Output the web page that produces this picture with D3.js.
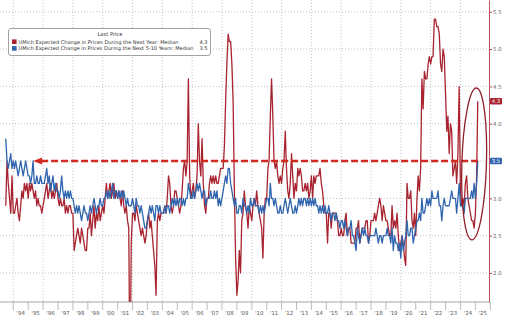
<!DOCTYPE html>
<html><head><meta charset="utf-8">
<script src="https://cdn.jsdelivr.net/npm/d3@7"></script>
<style>body{margin:0;background:#fff}svg{display:block;font-family:"DejaVu Sans",sans-serif}</style>
</head><body><svg id="c" width="513" height="324"></svg>
<script>
// Monthly series, first value = June 1993, last value = Feb 2025
const startYear = 1993, startMonth = 6;
const oneYear = [
 2.9,3.5,3.2,3.0,2.8,3.3,2.8,
 2.8,2.9,3.0,2.8,2.7,2.9,3.1,3.0,3.2,3.1,3.2,3.0,
 3.2,3.1,3.2,3.1,3.0,3.1,2.9,3.0,2.9,2.9,2.8,2.9,
 3.0,3.1,3.2,3.0,3.1,3.2,3.0,3.1,3.0,3.1,3.2,3.0,
 2.9,3.0,2.9,2.9,3.0,2.8,2.9,2.8,2.9,2.9,2.8,2.8,
 2.3,2.4,2.5,2.6,2.5,2.4,2.6,2.5,2.4,2.3,2.3,2.6,
 2.6,2.8,2.5,2.7,2.9,2.6,2.8,2.7,2.9,2.7,2.8,2.9,
 2.8,3.0,3.2,3.0,3.1,3.2,3.0,3.1,3.2,3.0,3.1,3.0,
 3.1,3.0,2.9,3.1,2.9,2.8,2.9,2.7,2.6,0.4,2.4,2.8,
 2.8,2.7,2.9,2.8,2.7,2.6,2.5,2.6,2.5,2.4,2.5,2.7,
 2.8,2.6,2.7,2.5,2.3,2.1,1.7,2.7,2.8,2.7,2.8,2.8,
 2.8,2.9,2.8,3.0,3.3,3.2,2.9,2.8,2.9,3.1,3.1,3.0,
 2.9,2.8,2.9,3.1,3.4,3.5,3.3,3.5,4.6,3.3,3.0,3.1,
 3.2,3.0,3.1,3.3,4.0,3.5,3.3,3.8,3.2,2.9,2.8,3.0,
 3.0,3.2,3.3,3.2,3.3,3.2,3.3,3.2,3.2,3.3,3.4,3.4,
 3.4,3.7,4.3,4.8,5.2,5.1,5.1,4.8,4.3,3.1,2.2,1.7,
 1.9,2.3,2.0,2.7,2.8,3.1,2.9,2.8,2.6,2.9,2.8,2.7,
 2.9,3.0,2.9,3.1,2.9,2.8,2.7,2.6,2.2,2.8,3.0,3.0,
 3.4,3.5,4.1,4.6,4.1,3.5,3.4,3.5,3.3,3.2,3.3,3.2,
 3.4,3.5,3.9,3.4,3.1,3.0,3.2,3.6,3.3,3.0,3.2,3.1,
 3.4,3.3,3.4,3.3,3.1,3.1,3.2,3.1,3.2,3.0,3.1,3.3,
 3.0,3.3,3.2,3.3,3.3,3.3,3.4,3.2,3.1,2.9,2.8,2.8,
 2.4,2.8,2.8,2.6,2.8,2.8,2.8,2.8,2.7,2.5,2.5,2.6,
 2.5,2.5,2.7,2.8,2.5,2.6,2.6,2.4,2.4,2.4,2.4,2.6,
 2.6,2.7,2.4,2.5,2.6,2.6,2.6,2.7,2.7,2.4,2.5,2.7,
 2.7,2.7,2.8,2.7,2.8,2.9,3.0,2.9,2.7,2.9,2.8,2.7,
 2.7,2.6,2.5,2.5,2.9,2.6,2.7,2.6,2.8,2.5,2.3,2.4,
 2.5,2.4,2.2,2.1,3.2,3.0,3.0,3.1,2.7,2.6,2.8,2.5,
 3.0,3.3,3.1,3.4,4.6,4.2,4.7,4.6,4.6,4.8,4.9,4.8,
 4.9,4.9,5.4,5.4,5.3,5.3,5.2,4.8,4.7,5.0,4.9,4.4,
 3.9,4.1,3.6,4.0,3.9,3.3,3.4,3.5,3.2,3.6,4.5,3.1,
 2.9,3.0,2.9,3.2,3.3,3.0,2.9,2.8,2.7,2.7,2.6,2.8,
 3.3,4.3
];
const fiveTenYear = [
 3.8,3.5,3.4,3.5,3.6,3.4,3.5,
 3.4,3.5,3.4,3.3,3.4,3.5,3.4,3.3,3.4,3.5,3.4,3.3,
 3.3,3.2,3.3,3.5,3.2,3.2,3.3,3.2,3.2,3.3,3.2,3.2,
 3.2,3.3,3.4,3.2,3.3,3.1,3.2,3.3,3.1,3.2,3.1,3.1,
 3.0,3.1,3.3,3.1,3.0,3.1,3.0,3.1,3.0,3.1,3.0,3.0,
 2.9,2.8,2.9,2.8,2.9,2.8,2.7,2.8,2.9,2.8,2.8,2.7,
 2.8,2.9,2.8,2.9,3.0,2.9,2.8,2.9,2.9,3.0,2.9,2.9,
 3.0,3.0,3.1,3.0,3.1,3.0,3.1,3.2,3.0,3.1,3.1,3.0,
 3.1,3.0,3.1,3.0,3.1,3.0,2.9,3.0,2.9,2.9,2.9,3.0,
 2.9,2.8,3.0,2.9,2.9,2.8,2.9,2.8,2.7,2.6,2.6,2.7,
 2.8,2.9,2.8,2.9,2.8,2.7,2.9,2.9,2.8,2.9,2.8,2.8,
 2.8,2.9,2.8,2.9,2.9,2.8,2.9,3.0,2.9,3.0,2.9,3.0,
 2.9,3.0,3.0,2.9,3.0,2.9,3.0,3.0,3.2,3.1,3.0,3.0,
 3.1,3.0,3.1,3.2,3.1,3.2,3.1,3.0,3.1,3.1,2.9,3.0,
 3.0,3.0,3.1,3.0,3.0,3.1,3.0,3.1,2.9,3.0,2.9,3.0,
 3.1,3.2,3.3,3.2,3.4,3.4,3.2,3.1,3.0,2.9,3.0,2.8,
 2.8,2.9,2.9,2.8,3.0,2.9,2.9,2.8,2.9,2.8,3.0,2.9,
 2.9,3.0,2.9,2.9,2.9,2.8,2.9,2.8,2.9,2.8,2.9,3.0,
 3.0,2.9,3.2,3.0,3.0,2.9,3.0,2.9,2.8,2.8,2.9,2.8,
 2.8,2.9,3.0,2.9,2.8,2.9,3.0,2.9,2.8,2.8,2.9,2.8,
 2.9,3.0,2.9,3.0,2.9,3.0,3.0,2.9,3.0,2.9,3.0,2.9,
 3.0,2.9,3.0,2.9,2.9,2.8,2.9,2.8,2.9,2.8,2.9,2.8,
 2.8,2.9,2.8,2.7,2.8,2.8,2.7,2.8,2.7,2.7,2.6,2.7,
 2.7,2.6,2.7,2.6,2.5,2.6,2.6,2.7,2.5,2.5,2.4,2.3,
 2.6,2.5,2.4,2.5,2.6,2.5,2.6,2.5,2.5,2.4,2.5,2.5,
 2.5,2.5,2.5,2.6,2.5,2.4,2.5,2.5,2.4,2.5,2.5,2.5,
 2.6,2.5,2.5,2.4,2.6,2.3,2.5,2.4,2.4,2.3,2.4,2.2,
 2.5,2.3,2.4,2.5,2.7,2.5,2.5,2.6,2.6,2.4,2.5,2.6,
 2.7,2.7,2.8,2.7,3.0,2.8,2.8,2.9,3.0,2.9,3.0,2.9,
 3.1,3.0,3.0,3.0,3.0,3.1,2.9,2.9,2.7,2.9,3.0,2.9,
 2.9,2.9,2.9,3.0,3.1,3.0,3.0,3.0,2.8,3.0,3.2,2.9,
 2.9,2.9,2.8,3.0,3.0,3.0,3.0,3.0,3.1,3.0,3.2,3.0,
 3.2,3.5
];
const years = d3.range(1994, 2026);
const yTicks = [2.0, 2.5, 3.0, 3.5, 4.0, 4.5, 5.0, 5.5];
const legendTitle = "Last Price";
const seriesNames = [
  "UMich Expected Change in Prices During the Next Year: Median",
  "UMich Expected Change in Prices During the Next 5-10 Years: Median"
];
const lastValues = [4.3, 3.5];
const markLevel = 3.5;

const RED = "#a8232f", BLUE = "#2f65ae", AXIS_RED = "#b3414c";
const svg = d3.select("#c");
const W = 489, H = 302;

const x = d3.scaleTime().domain([new Date(1993, 1, 9), new Date(2026, 0, 1)]).range([0, 490.3]);
const y = d3.scaleLinear().domain([1.61, 5.658]).range([H, 0]);
const dateOf = i => new Date(startYear, startMonth + i, 0);

svg.append("defs").append("clipPath").attr("id", "clip")
  .append("rect").attr("x", 0).attr("y", 0).attr("width", W).attr("height", H);

// grid
const grid = svg.append("g").attr("stroke", "#b5b5b5").attr("stroke-width", 0.8).attr("stroke-dasharray", "1,2");
grid.selectAll("line.h").data(yTicks).join("line")
  .attr("x1", 0).attr("x2", W).attr("y1", d => y(d)).attr("y2", d => y(d));
grid.selectAll("line.v").data(years.filter(v => v % 2 === 0)).join("line")
  .attr("x1", d => x(new Date(d, 0, 1))).attr("x2", d => x(new Date(d, 0, 1)))
  .attr("y1", 0).attr("y2", H);

// series
const line = d3.line().x((d, i) => x(dateOf(i))).y(d => y(d));
const plot = svg.append("g").attr("clip-path", "url(#clip)");
plot.append("path").datum(oneYear).attr("d", line)
  .attr("fill", "none").attr("stroke", RED).attr("stroke-width", 1.3).attr("stroke-linejoin", "round");
plot.append("path").datum(fiveTenYear).attr("d", line)
  .attr("fill", "none").attr("stroke", BLUE).attr("stroke-width", 1.3).attr("stroke-linejoin", "round");

// bottom axis
const bx = svg.append("g").attr("transform", `translate(0,${H})`);
bx.append("line").attr("x1", 0).attr("x2", W).attr("stroke", "#8a8a8a").attr("stroke-width", 0.8);
bx.selectAll("line.t").data(years.concat([2026])).join("line")
  .attr("x1", d => x(new Date(d, 0, 1))).attr("x2", d => x(new Date(d, 0, 1)))
  .attr("y1", 0).attr("y2", 8).attr("stroke", "#a0a0a0").attr("stroke-width", 0.7);
bx.selectAll("text").data(years).join("text")
  .attr("x", d => x(new Date(d, 6, 1))).attr("y", 13)
  .attr("text-anchor", "middle").attr("font-size", 5.4).attr("fill", "#555")
  .text(d => "'" + String(d).slice(2));

// right axis
const ry = svg.append("g").attr("transform", `translate(${W},0)`)
  .call(d3.axisRight(y).tickValues(yTicks).tickSize(3).tickSizeOuter(0).tickFormat(d3.format(".1f")));
ry.select(".domain").attr("stroke", AXIS_RED).attr("stroke-width", 0.9);
ry.selectAll(".tick line").attr("stroke", AXIS_RED);
ry.selectAll(".tick text").attr("fill", "#666").attr("font-size", 5.4).attr("x", 4).attr("font-family", "DejaVu Sans");

// last value tags
const tags = svg.append("g");
[[lastValues[0], RED], [lastValues[1], BLUE]].forEach(([v, c]) => {
  tags.append("rect").attr("x", W + 1).attr("y", y(v) - 3.3).attr("width", 12).attr("height", 6.6)
    .attr("rx", 1).attr("fill", c);
  tags.append("text").attr("x", W + 7).attr("y", y(v) + 2).attr("text-anchor", "middle")
    .attr("font-size", 5.3).attr("fill", "#fff").text(d3.format(".1f")(v));
});

// dashed arrow at 3.5
const lastDate = dateOf(oneYear.length - 1);
const arrowStart = new Date(1995, 4, 1);
const yl = y(markLevel);
svg.append("line").attr("x1", x(arrowStart) + 8).attr("x2", x(lastDate) + 1)
  .attr("y1", yl).attr("y2", yl).attr("stroke", "#d02a20").attr("stroke-width", 2.6)
  .attr("stroke-dasharray", "7,3");
svg.append("path")
  .attr("d", `M${x(arrowStart)},${yl} L${x(arrowStart) + 9},${yl - 3.6} L${x(arrowStart) + 9},${yl + 3.6} Z`)
  .attr("fill", "#d02a20");

// ellipse highlight
const ex = x(new Date(2024, 11, 1)), ey = y(3.46);
svg.append("ellipse").attr("cx", 0).attr("cy", 0).attr("rx", 12.3).attr("ry", 76)
  .attr("transform", `translate(${ex},${ey}) rotate(1.7)`)
  .attr("fill", "none").attr("stroke", "#8e1f27").attr("stroke-width", 1.3);

// legend
const lg = svg.append("g");
lg.append("rect").attr("x", 8.5).attr("y", 28.5).attr("width", 202).attr("height", 27).attr("rx", 2.5)
  .attr("fill", "#fff").attr("stroke", "#8c8c8c").attr("stroke-width", 0.8);
lg.append("text").attr("x", 110).attr("y", 36.3).attr("text-anchor", "middle")
  .attr("font-size", 5.2).attr("fill", "#333").text(legendTitle);
const rowsY = [43.6, 50.3], lens = [160, 175], cols = [RED, BLUE];
seriesNames.forEach((n, i) => {
  lg.append("rect").attr("x", 12).attr("y", rowsY[i] - 4.2).attr("width", 4.6).attr("height", 4.6).attr("fill", cols[i]);
  lg.append("text").attr("x", 18.5).attr("y", rowsY[i]).attr("font-size", 5.1).attr("fill", "#333")
    .attr("textLength", lens[i]).attr("lengthAdjust", "spacingAndGlyphs").text(n);
  lg.append("text").attr("x", 207.5).attr("y", rowsY[i]).attr("text-anchor", "end").attr("font-size", 5.1)
    .attr("fill", "#333").text(d3.format(".1f")(lastValues[i]));
});
</script></body></html>
